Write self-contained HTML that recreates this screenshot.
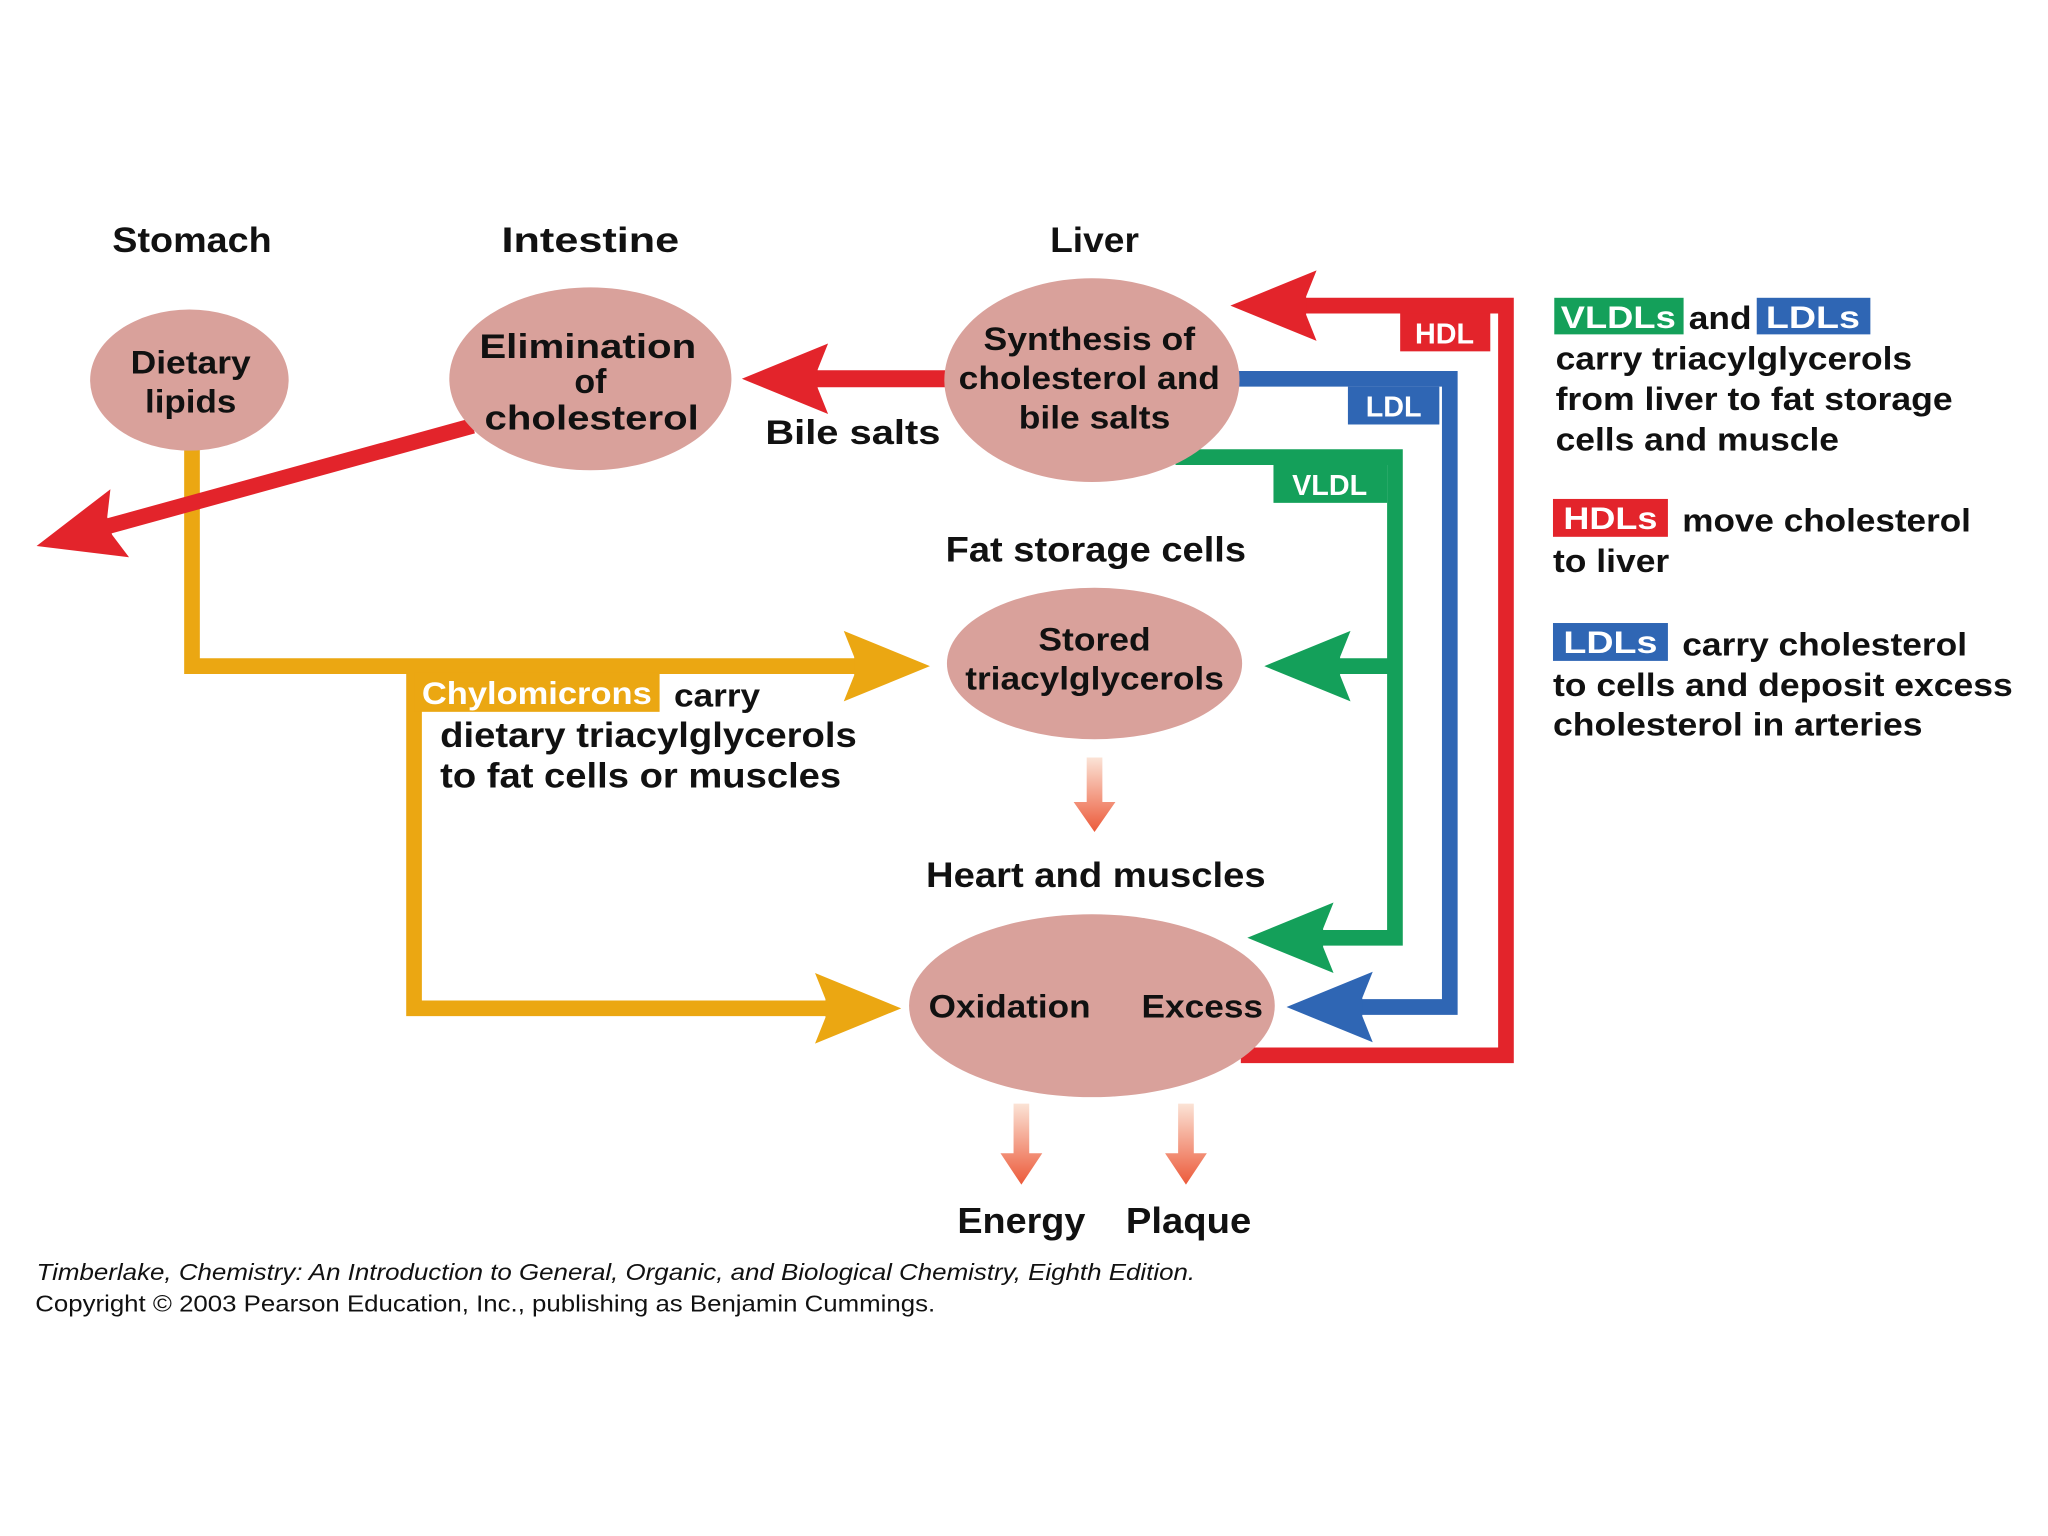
<!DOCTYPE html>
<html><head><meta charset="utf-8"><style>
html,body{margin:0;padding:0;background:#fff;}
svg{display:block;}
text{font-family:"Liberation Sans",Arial,sans-serif;font-weight:bold;fill:#111;}
</style></head><body>
<svg width="2048" height="1536" viewBox="0 0 1568 1176" xmlns="http://www.w3.org/2000/svg">
<defs>
<path id="ah" d="M0,0 L-66,-27 L-58,-7 L-58,7 L-66,27 Z"/>
<linearGradient id="gd" x1="0" y1="0" x2="0" y2="1">
<stop offset="0" stop-color="#fbe3d6"/><stop offset="1" stop-color="#ec5a3a"/></linearGradient>
</defs>
<rect width="1568" height="1176" fill="#fff"/>

<!-- Titles -->
<text x="147" y="193" font-size="27" text-anchor="middle" textLength="122" lengthAdjust="spacingAndGlyphs">Stomach</text>
<text x="452" y="193" font-size="27" text-anchor="middle" textLength="136" lengthAdjust="spacingAndGlyphs">Intestine</text>
<text x="838" y="193" font-size="27" text-anchor="middle" textLength="68" lengthAdjust="spacingAndGlyphs">Liver</text>

<!-- HDL red -->
<path d="M950,808 L1153,808 L1153,234 L990,234" fill="none" stroke="#e3242b" stroke-width="12"/>
<use href="#ah" transform="translate(942,234) rotate(180)" fill="#e3242b"/>
<rect x="1072" y="240" width="69" height="29" fill="#e3242b"/>
<text x="1106" y="263" font-size="22" fill="#fff" style="fill:#fff" text-anchor="middle">HDL</text>

<!-- LDL blue -->
<path d="M945,290 L1110,290 L1110,771 L1030,771" fill="none" stroke="#2f66b4" stroke-width="12"/>
<use href="#ah" transform="translate(985,771) rotate(180)" fill="#2f66b4"/>
<rect x="1032" y="296" width="70" height="29" fill="#2f66b4"/>
<text x="1067" y="319" font-size="22" style="fill:#fff" text-anchor="middle">LDL</text>

<!-- VLDL green -->
<path d="M900,350 L1068,350 L1068,718 L1000,718 M1068,510 L1010,510" fill="none" stroke="#14a05a" stroke-width="12"/>
<use href="#ah" transform="translate(968,510) rotate(180)" fill="#14a05a"/>
<use href="#ah" transform="translate(955,718) rotate(180)" fill="#14a05a"/>
<rect x="975" y="356" width="87" height="29" fill="#14a05a"/>
<text x="1018" y="379" font-size="22" style="fill:#fff" text-anchor="middle">VLDL</text>

<!-- Orange chylomicrons -->
<path d="M147,335 L147,510 L660,510 M317,510 L317,772 L640,772" fill="none" stroke="#eba712" stroke-width="12"/>
<use href="#ah" transform="translate(712,510)" fill="#eba712"/>
<use href="#ah" transform="translate(690,772)" fill="#eba712"/>
<rect x="317" y="515" width="188" height="30" fill="#eba712"/>
<text x="411" y="539" font-size="24" style="fill:#fff" text-anchor="middle" textLength="176" lengthAdjust="spacingAndGlyphs">Chylomicrons</text>
<text x="516" y="541" font-size="25" textLength="66" lengthAdjust="spacingAndGlyphs">carry</text>
<text x="337" y="572" font-size="27" textLength="319" lengthAdjust="spacingAndGlyphs">dietary triacylglycerols</text>
<text x="337" y="603" font-size="27" textLength="307" lengthAdjust="spacingAndGlyphs">to fat cells or muscles</text>

<!-- Bile salts red -->
<path d="M730,290 L615,290" stroke="#e3242b" stroke-width="13"/>
<use href="#ah" transform="translate(568,290) rotate(180)" fill="#e3242b"/>
<text x="586" y="340" font-size="26" textLength="134" lengthAdjust="spacingAndGlyphs">Bile salts</text>

<!-- Diagonal elimination arrow -->
<path d="M362,326 L75,405" stroke="#e3242b" stroke-width="12"/>
<use href="#ah" transform="translate(28,418) rotate(164.7)" fill="#e3242b"/>

<!-- Ellipses -->
<ellipse cx="145" cy="291" rx="76" ry="54" fill="#d9a19b"/>
<ellipse cx="452" cy="290" rx="108" ry="70" fill="#d9a19b"/>
<ellipse cx="836" cy="291" rx="113" ry="78" fill="#d9a19b"/>
<ellipse cx="838" cy="508" rx="113" ry="58" fill="#d9a19b"/>
<ellipse cx="836" cy="770" rx="140" ry="70" fill="#d9a19b"/>

<text x="146" y="286" font-size="25" text-anchor="middle" textLength="92" lengthAdjust="spacingAndGlyphs">Dietary</text>
<text x="146" y="316" font-size="25" text-anchor="middle" textLength="70" lengthAdjust="spacingAndGlyphs">lipids</text>
<text x="450" y="274" font-size="26" text-anchor="middle" textLength="166" lengthAdjust="spacingAndGlyphs">Elimination</text>
<text x="452" y="301" font-size="26" text-anchor="middle">of</text>
<text x="453" y="329" font-size="26" text-anchor="middle" textLength="164" lengthAdjust="spacingAndGlyphs">cholesterol</text>
<text x="834" y="268" font-size="25" text-anchor="middle" textLength="162" lengthAdjust="spacingAndGlyphs">Synthesis of</text>
<text x="834" y="298" font-size="25" text-anchor="middle" textLength="200" lengthAdjust="spacingAndGlyphs">cholesterol and</text>
<text x="838" y="328" font-size="25" text-anchor="middle" textLength="116" lengthAdjust="spacingAndGlyphs">bile salts</text>
<text x="838" y="498" font-size="25" text-anchor="middle" textLength="86" lengthAdjust="spacingAndGlyphs">Stored</text>
<text x="838" y="528" font-size="25" text-anchor="middle" textLength="198" lengthAdjust="spacingAndGlyphs">triacylglycerols</text>
<text x="711" y="779" font-size="25" textLength="124" lengthAdjust="spacingAndGlyphs">Oxidation</text>
<text x="874" y="779" font-size="25" textLength="93" lengthAdjust="spacingAndGlyphs">Excess</text>

<text x="839" y="430" font-size="27" text-anchor="middle" textLength="230" lengthAdjust="spacingAndGlyphs">Fat storage cells</text>
<text x="839" y="679" font-size="27" text-anchor="middle" textLength="260" lengthAdjust="spacingAndGlyphs">Heart and muscles</text>

<!-- gradient arrows -->
<g fill="url(#gd)">
<path d="M832,580 h12 v34 h10 l-16,23 l-16,-23 h10 z"/>
<path d="M776,845 h12 v38 h10 l-16,24 l-16,-24 h10 z"/>
<path d="M902,845 h12 v38 h10 l-16,24 l-16,-24 h10 z"/>
</g>
<text x="782" y="944" font-size="28" text-anchor="middle" textLength="98" lengthAdjust="spacingAndGlyphs">Energy</text>
<text x="910" y="944" font-size="28" text-anchor="middle" textLength="96" lengthAdjust="spacingAndGlyphs">Plaque</text>

<!-- Legend -->
<rect x="1190" y="228" width="99" height="28" fill="#14a05a"/>
<text x="1239" y="251" font-size="24" style="fill:#fff" text-anchor="middle" textLength="88" lengthAdjust="spacingAndGlyphs">VLDLs</text>
<text x="1293" y="252" font-size="25" textLength="48" lengthAdjust="spacingAndGlyphs">and</text>
<rect x="1345" y="228" width="87" height="28" fill="#2f66b4"/>
<text x="1388" y="251" font-size="24" style="fill:#fff" text-anchor="middle" textLength="72" lengthAdjust="spacingAndGlyphs">LDLs</text>
<text x="1191" y="283" font-size="25" textLength="273" lengthAdjust="spacingAndGlyphs">carry triacylglycerols</text>
<text x="1191" y="314" font-size="25" textLength="304" lengthAdjust="spacingAndGlyphs">from liver to fat storage</text>
<text x="1191" y="345" font-size="25" textLength="217" lengthAdjust="spacingAndGlyphs">cells and muscle</text>

<rect x="1189" y="382" width="88" height="29" fill="#e3242b"/>
<text x="1233" y="405" font-size="24" style="fill:#fff" text-anchor="middle" textLength="72" lengthAdjust="spacingAndGlyphs">HDLs</text>
<text x="1288" y="407" font-size="25" textLength="221" lengthAdjust="spacingAndGlyphs">move cholesterol</text>
<text x="1189" y="438" font-size="25" textLength="89" lengthAdjust="spacingAndGlyphs">to liver</text>

<rect x="1189" y="477" width="88" height="29" fill="#2f66b4"/>
<text x="1233" y="500" font-size="24" style="fill:#fff" text-anchor="middle" textLength="72" lengthAdjust="spacingAndGlyphs">LDLs</text>
<text x="1288" y="502" font-size="25" textLength="218" lengthAdjust="spacingAndGlyphs">carry cholesterol</text>
<text x="1189" y="533" font-size="25" textLength="352" lengthAdjust="spacingAndGlyphs">to cells and deposit excess</text>
<text x="1189" y="563" font-size="25" textLength="283" lengthAdjust="spacingAndGlyphs">cholesterol in arteries</text>

<!-- Credits -->
<text x="28" y="980" font-size="18" font-style="italic" style="font-weight:normal" textLength="887" lengthAdjust="spacingAndGlyphs">Timberlake, Chemistry: An Introduction to General, Organic, and Biological Chemistry, Eighth Edition.</text>
<text x="27" y="1004" font-size="18" style="font-weight:normal" textLength="689" lengthAdjust="spacingAndGlyphs">Copyright © 2003 Pearson Education, Inc., publishing as Benjamin Cummings.</text>
</svg>
</body></html>
